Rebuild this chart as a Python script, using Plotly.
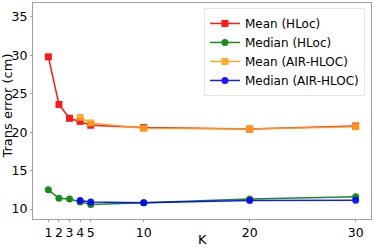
import plotly.graph_objects as go

k_hloc = [1, 2, 3, 4, 5, 10, 20, 30]
mean_hloc = [29.8, 23.6, 21.8, 21.4, 20.9, 20.6, 20.4, 20.8]
median_hloc = [12.5, 11.4, 11.3, 10.9, 10.6, 10.8, 11.3, 11.6]
k_air = [4, 5, 10, 20, 30]
mean_air = [21.9, 21.2, 20.5, 20.4, 20.7]
median_air = [11.1, 10.9, 10.8, 11.1, 11.15]
x_ticks = [1, 2, 3, 4, 5, 10, 20, 30]
y_ticks = [10, 15, 20, 25, 30, 35]

fig = go.Figure()
series = [
    ("Mean (HLoc)", k_hloc, mean_hloc, "red", "square"),
    ("Median (HLoc)", k_hloc, median_hloc, "green", "circle"),
    ("Mean (AIR-HLOC)", k_air, mean_air, "#ffa01a", "square"),
    ("Median (AIR-HLOC)", k_air, median_air, "blue", "circle"),
]
for name, xs, ys, c, sym in series:
    fig.add_trace(go.Scatter(
        x=xs, y=ys, name=name, mode="lines+markers",
        line=dict(color=c, width=1.5),
        marker=dict(color=c, symbol=sym, size=7),
        opacity=0.9,
    ))

fig.update_layout(
    width=374, height=249,
    margin=dict(l=33, r=3, t=3, b=30, autoexpand=False),
    paper_bgcolor="white", plot_bgcolor="white",
    font=dict(family="DejaVu Sans", size=12, color="black"),
    showlegend=True,
    legend=dict(
        x=0.982, y=0.977, xanchor="right", yanchor="top",
        bgcolor="rgba(255,255,255,0.8)", bordercolor="#e6e6e6", borderwidth=1,
        font=dict(size=12), tracegroupgap=0, itemwidth=30,
    ),
    annotations=[
        dict(text="K", x=0.5, y=-0.093, xref="paper", yref="paper",
             xanchor="center", yanchor="middle", showarrow=False,
             font=dict(size=13, color="black")),
        dict(text="Trans error (cm)", x=-0.074, y=0.525, xref="paper", yref="paper",
             xanchor="center", yanchor="middle", textangle=-90, showarrow=False,
             font=dict(size=13, color="black")),
    ],
)
fig.update_xaxes(
    range=[-0.45, 31.45], tickvals=x_ticks, ticktext=[str(v) for v in x_ticks],
    showgrid=False, zeroline=False, showline=True, linecolor="#a0a0a0", linewidth=1,
    mirror=True, ticks="outside", ticklen=2, tickcolor="#a0a0a0",
    automargin=False, tickfont=dict(size=12.5),
)
fig.update_yaxes(
    range=[8.7, 36.8], tickvals=y_ticks,
    showgrid=False, zeroline=False, showline=True, linecolor="#a0a0a0", linewidth=1,
    mirror=True, ticks="outside", ticklen=2, tickcolor="#a0a0a0",
    automargin=False, tickfont=dict(size=12.5),
)

fig.write_html("out.html", config={"displayModeBar": False},
               post_script="document.body.style.margin='0';document.body.style.padding='0';")
